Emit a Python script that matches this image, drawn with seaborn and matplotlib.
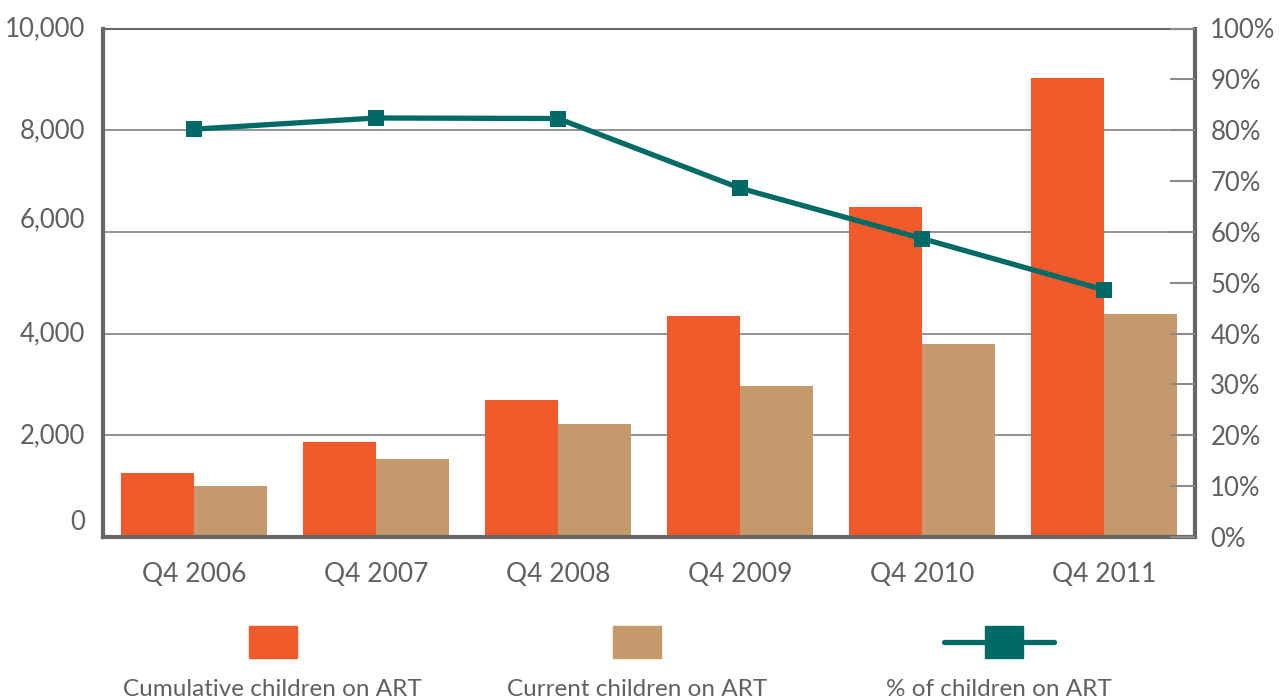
import numpy as np
import pandas as pd
import matplotlib
matplotlib.use("Agg")
import matplotlib.pyplot as plt
import matplotlib.transforms as mtransforms
from matplotlib.patches import Rectangle
from matplotlib.lines import Line2D
import seaborn as sns

categories = ["Q4 2006", "Q4 2007", "Q4 2008", "Q4 2009", "Q4 2010", "Q4 2011"]
cumulative = [1250, 1860, 2700, 4340, 6480, 9020]
current = [1000, 1530, 2230, 2970, 3800, 4380]
pct_on_art = [80.2, 82.4, 82.3, 68.6, 58.7, 48.6]
series_names = ["Cumulative children on ART", "Current children on ART", "% of children on ART"]
left_ticks = [0, 2000, 4000, 6000, 8000, 10000]
right_ticks = list(range(0, 101, 10))

ORANGE = "#F15A2B"
TAN = "#C4996B"
TEAL = "#006A66"
TXT = "#606060"
SPINE = "#666666"
GRID = "#8a8a8a"

sns.set_theme(style="white")
plt.rcParams['font.family'] = ['Lato', 'DejaVu Sans']

df = pd.DataFrame({
    "quarter": categories * 2,
    "value": cumulative + current,
    "series": [series_names[0]] * len(categories) + [series_names[1]] * len(categories),
})

fig = plt.figure(figsize=(12.87, 7.0), dpi=100)
ax = fig.add_axes([103 / 1287, 1 - 537 / 700, (1195 - 103) / 1287, (537 - 28.5) / 700])

sns.barplot(data=df, x="quarter", y="value", hue="series", order=categories,
            hue_order=series_names[:2], palette=[ORANGE, TAN], width=0.8,
            saturation=1, ax=ax, legend=False, zorder=2)
for p in ax.patches:
    p.set_edgecolor("none")

ax.set_xlim(-0.5, len(categories) - 0.5)
ax.set_ylim(0, 10000)
ax.set_yticks(left_ticks)
ax.set_yticklabels([f"{v:,}" for v in left_ticks])
ax.set_xlabel("")
ax.set_ylabel("")
ax.yaxis.grid(True, color=GRID, linewidth=1.3, zorder=0)
ax.set_axisbelow(True)
ax.tick_params(axis="y", length=0, pad=13, labelsize=18.5, labelcolor=TXT)
ax.tick_params(axis="x", length=0, pad=18, labelsize=19, labelcolor=TXT)

# per-label vertical offsets as in the reference
offsets_px = {0: 17, 6000: 15}
for tick, lab in zip(left_ticks, ax.get_yticklabels()):
    dy = offsets_px.get(tick, 2)
    lab.set_transform(lab.get_transform() + mtransforms.ScaledTranslation(0, dy / 100, fig.dpi_scale_trans))

for side in ["left", "bottom", "right"]:
    ax.spines[side].set_color(SPINE)
    ax.spines[side].set_linewidth(3)
ax.spines["top"].set_color(SPINE)
ax.spines["top"].set_linewidth(1.5)

ax2 = ax.twinx()
sns.lineplot(x=np.arange(len(categories)), y=pct_on_art, ax=ax2, color=TEAL,
             linewidth=3.8, marker="s", markersize=12, markeredgewidth=0,
             markerfacecolor=TEAL, zorder=5)
ax2.set_ylim(0, 100)
ax2.set_yticks(right_ticks)
ax2.set_yticklabels([f"{v}%" for v in right_ticks])
ax2.tick_params(axis="y", direction="in", length=18, width=1.5, color=GRID,
                pad=11, labelsize=18.5, labelcolor=TXT)
for s in ax2.spines.values():
    s.set_visible(False)
ax2.grid(False)
ax2.set_ylabel("")

# Legend drawn below the chart
W, H = 1287, 700
def fx(x):
    return x / W
def fy(y):
    return 1 - y / H

fig.patches.append(Rectangle((fx(249), fy(658)), 48 / W, 32 / H, color=ORANGE, transform=fig.transFigure))
fig.patches.append(Rectangle((fx(613), fy(658)), 48 / W, 32 / H, color=TAN, transform=fig.transFigure))
fig.lines.append(Line2D([fx(944), fx(1054)], [fy(642), fy(642)], color=TEAL, linewidth=3.8,
                        solid_capstyle="round", transform=fig.transFigure))
fig.patches.append(Rectangle((fx(985), fy(658)), 38 / W, 32 / H, color=TEAL, transform=fig.transFigure))

for xc, name in zip([272, 637, 999], series_names):
    fig.text(fx(xc), fy(689), name, ha="center", va="center", fontsize=17.5, color=TXT)

fig.savefig("out.png", dpi=100)
